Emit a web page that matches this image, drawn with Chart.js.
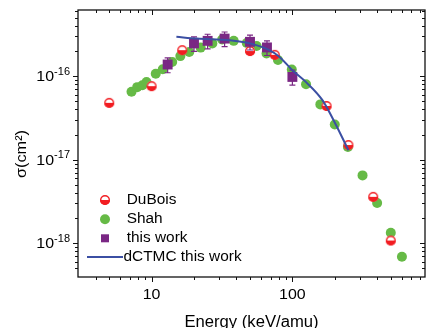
<!DOCTYPE html>
<html>
<head>
<meta charset="utf-8">
<script src="https://cdn.jsdelivr.net/npm/chart.js"></script>
<style>
  html, body { margin: 0; padding: 0; background: #fff; }
</style>
</head>
<body>
<canvas id="chart" width="432" height="328"></canvas>
<script>
// values (energy in keV/amu, cross section in cm^2)
const duboisEnergy = [5, 10, 16.5, 50, 75, 175, 250, 375, 500];
const duboisSigma = [4.8e-17, 7.6e-17, 2.05e-16, 2.0e-16, 1.8e-16, 4.4e-17, 1.5e-17, 3.6e-18, 1.08e-18];

const shahEnergy = [7.2, 7.9, 8.6, 9.2, 10.7, 12, 14, 16, 18.5, 22.3, 27, 31.7, 38.3, 47.4, 55.7, 65.5, 79, 99, 125, 158, 200, 248, 315, 400, 500, 600];
const shahSigma = [6.5e-17, 7.4e-17, 7.8e-17, 8.5e-17, 1.07e-16, 1.21e-16, 1.48e-16, 1.74e-16, 1.95e-16, 2.2e-16, 2.47e-16, 2.75e-16, 2.65e-16, 2.5e-16, 2.3e-16, 1.87e-16, 1.56e-16, 1.2e-16, 8e-17, 4.6e-17, 2.64e-17, 1.42e-17, 6.5e-18, 3.04e-18, 1.34e-18, 6.9e-19];

const workEnergy = [13, 20, 25, 33, 50, 66, 100];
const workSigma = [1.38e-16, 2.47e-16, 2.65e-16, 2.82e-16, 2.58e-16, 2.21e-16, 0.98e-16];
const workErr = [0.28e-16, 0.49e-16, 0.53e-16, 0.56e-16, 0.52e-16, 0.44e-16, 0.2e-16];

const ctmcEnergy = [15, 21, 36, 50, 67, 81, 100, 125, 163, 202, 250];
const ctmcSigma = [2.96e-16, 2.82e-16, 2.7e-16, 2.47e-16, 2.09e-16, 1.7e-16, 1.18e-16, 8.5e-17, 5.2e-17, 2.7e-17, 1.3e-17];

const xTickLabels = [10, 100];
const yTickExponents = [-16, -17, -18];

const FONT = '"Liberation Sans", Arial, sans-serif';
const STRETCH = 1.1;
const RED = '#f21d22';
const GREEN = '#66ba46';
const PURPLE = '#7a2784';
const BLUE = '#3b4fa3';

const toPoints = (xs, ys) => xs.map((v, i) => ({ x: v, y: ys[i] }));

// half-filled circle marker (lower half filled)
function halfCircle(r, color) {
  const c = document.createElement('canvas');
  const s = Math.ceil(2 * r + 2);
  c.width = c.height = s;
  const g = c.getContext('2d');
  g.beginPath(); g.arc(s / 2, s / 2, r, 0, 2 * Math.PI); g.fillStyle = '#fff'; g.fill();
  g.beginPath(); g.arc(s / 2, s / 2, r, 0, Math.PI); g.closePath(); g.fillStyle = color; g.fill();
  g.beginPath(); g.arc(s / 2, s / 2, r - 0.7, 0, 2 * Math.PI); g.strokeStyle = color; g.lineWidth = 1.4; g.stroke();
  return c;
}
const duboisMarker = halfCircle(5, RED);

function text(ctx, str, x, y, size, align, baseline, stretch) {
  ctx.save();
  ctx.font = size + 'px ' + FONT;
  ctx.textAlign = align;
  ctx.textBaseline = baseline;
  ctx.fillStyle = '#000';
  ctx.translate(x, y);
  ctx.scale(stretch || STRETCH, 1);
  ctx.fillText(str, 0, 0);
  ctx.restore();
}

function isNice(v) {
  const m = v / Math.pow(10, Math.floor(Math.log10(v) + 1e-9));
  return Math.abs(m - Math.round(m)) < 1e-6;
}
function isDecade(v) {
  const l = Math.log10(v);
  return Math.abs(l - Math.round(l)) < 1e-6;
}

const framePlugin = {
  id: 'frame',
  afterDatasetDraw(chart, args) {
    if (chart.data.datasets[args.index].label !== 'this work') return;
    const { ctx, scales: { x, y } } = chart;
    ctx.save();
    ctx.strokeStyle = PURPLE;
    ctx.lineWidth = 1.2;
    ctx.beginPath();
    workEnergy.forEach((e, i) => {
      const px = x.getPixelForValue(e);
      const top = y.getPixelForValue(workSigma[i] + workErr[i]);
      const bot = y.getPixelForValue(workSigma[i] - workErr[i]);
      ctx.moveTo(px, top); ctx.lineTo(px, bot);
      ctx.moveTo(px - 3, top); ctx.lineTo(px + 3, top);
      ctx.moveTo(px - 3, bot); ctx.lineTo(px + 3, bot);
    });
    ctx.stroke();
    ctx.restore();
  },
  afterDraw(chart) {
    const { ctx, chartArea: a, scales: { x, y } } = chart;
    ctx.save();
    ctx.strokeStyle = '#111';
    ctx.lineWidth = 1.3;
    ctx.strokeRect(a.left, a.top, a.right - a.left, a.bottom - a.top);

    // tick marks: left/bottom outward, top/right inward
    ctx.lineWidth = 1;
    ctx.beginPath();
    x.ticks.forEach(t => {
      if (!isNice(t.value)) return;
      const px = Math.round(x.getPixelForValue(t.value)) + 0.5;
      if (px < a.left + 1 || px > a.right - 1) return;
      const len = isDecade(t.value) ? 5 : 3;
      ctx.moveTo(px, a.bottom); ctx.lineTo(px, a.bottom + len);
      ctx.moveTo(px, a.top); ctx.lineTo(px, a.top + len);
    });
    y.ticks.forEach(t => {
      if (!isNice(t.value)) return;
      const py = Math.round(y.getPixelForValue(t.value)) + 0.5;
      if (py < a.top + 1 || py > a.bottom - 1) return;
      const len = isDecade(t.value) ? 5 : 3;
      ctx.moveTo(a.left, py); ctx.lineTo(a.left - len, py);
      ctx.moveTo(a.right, py); ctx.lineTo(a.right - len, py);
    });
    ctx.stroke();

    // tick labels
    xTickLabels.forEach(v => {
      text(ctx, String(v), x.getPixelForValue(v), 299, 14.5, 'center', 'alphabetic');
    });
    yTickExponents.forEach(e => {
      const py = y.getPixelForValue(Math.pow(10, e));
      const sup = String(e);
      ctx.font = '10px ' + FONT;
      const supW = ctx.measureText(sup).width * STRETCH;
      const right = a.left - 8;
      text(ctx, sup, right, py - 1.5, 10, 'right', 'alphabetic');
      text(ctx, '10', right - supW, py + 5, 14.5, 'right', 'alphabetic');
    });

    // axis titles
    text(ctx, 'Energy (keV/amu)', (a.left + a.right) / 2, 326.5, 16, 'center', 'alphabetic', 1.04);
    ctx.save();
    ctx.translate(22, 154);
    ctx.rotate(-Math.PI / 2);
    text(ctx, 'σ(cm²)', 0, 0, 15.5, 'center', 'middle', 1.05);
    ctx.restore();

    // legend
    const lx = 105, rows = [200, 219.3, 238.3, 257];
    chart.data.datasets.forEach((ds, i) => {
      const ly = rows[i];
      if (ds.showLine) {
        ctx.strokeStyle = ds.borderColor;
        ctx.lineWidth = 2;
        ctx.beginPath(); ctx.moveTo(87, ly); ctx.lineTo(123, ly); ctx.stroke();
        text(ctx, ds.label, 123.5, ly, 14, 'left', 'middle');
        return;
      }
      if (ds.pointStyle === 'rect') {
        ctx.fillStyle = ds.backgroundColor;
        ctx.fillRect(lx - 4, ly - 4, 8, 8);
      } else if (ds.pointStyle === 'circle') {
        ctx.fillStyle = ds.backgroundColor;
        ctx.beginPath(); ctx.arc(lx, ly, 5, 0, 2 * Math.PI); ctx.fill();
      } else {
        ctx.drawImage(ds.pointStyle, lx - ds.pointStyle.width / 2, ly - ds.pointStyle.height / 2);
      }
      text(ctx, ds.label, 126.7, ly, 14, 'left', 'middle');
    });
    ctx.restore();
  }
};

new Chart(document.getElementById('chart'), {
  type: 'scatter',
  data: {
    datasets: [
      {
        label: 'DuBois',
        data: toPoints(duboisEnergy, duboisSigma),
        pointStyle: duboisMarker,
        pointRadius: 5,
        order: 3
      },
      {
        label: 'Shah',
        data: toPoints(shahEnergy, shahSigma),
        pointStyle: 'circle',
        pointRadius: 5,
        pointBorderWidth: 0,
        backgroundColor: GREEN,
        borderColor: GREEN,
        order: 4
      },
      {
        label: 'this work',
        data: toPoints(workEnergy, workSigma),
        pointStyle: 'rect',
        pointRadius: 7,
        pointBorderWidth: 0,
        backgroundColor: PURPLE,
        borderColor: PURPLE,
        order: 2
      },
      {
        label: 'dCTMC this work',
        data: toPoints(ctmcEnergy, ctmcSigma),
        showLine: true,
        borderColor: BLUE,
        borderWidth: 2,
        pointRadius: 0,
        cubicInterpolationMode: 'monotone',
        order: 1
      }
    ]
  },
  options: {
    responsive: false,
    animation: false,
    devicePixelRatio: 1,
    layout: { padding: { left: 78, top: 10, right: 1, bottom: 51 } },
    plugins: { legend: { display: false }, tooltip: { enabled: false } },
    scales: {
      x: { type: 'logarithmic', min: 3, max: 875, display: false, ticks: { autoSkip: false } },
      y: { type: 'logarithmic', min: 3.95e-19, max: 6.2e-16, display: false, ticks: { autoSkip: false } }
    }
  },
  plugins: [framePlugin]
});
</script>
</body>
</html>
